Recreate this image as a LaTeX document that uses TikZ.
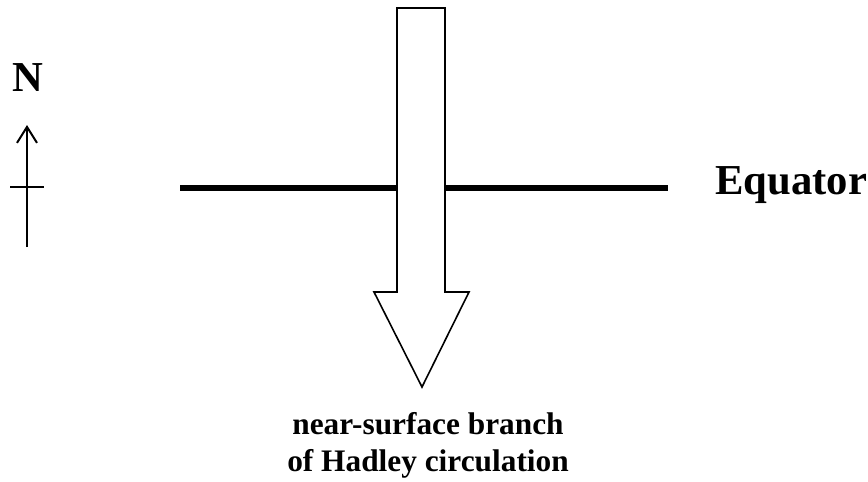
\documentclass[tikz,border=0pt]{standalone}
\usepackage{fontspec}
\setmainfont{Liberation Serif}
\usetikzlibrary{positioning, calc, arrows.meta}

\tikzset{
  bigtext/.style={font=\bfseries\fontsize{32}{38}\selectfont},
  smalltext/.style={font=\bfseries\fontsize{23.5}{28}\selectfont, align=center},
}

\begin{document}
\begin{tikzpicture}[x=0.75pt, y=-0.75pt, >=stealth]
    \useasboundingbox (0,0) rectangle (868,482);

    % North arrow
    \coordinate (sbot) at (27,247);
    \coordinate (stop) at (27,125);
    \draw[-{Straight Barb[length=12pt,width=15pt]}, line width=1.5pt] (sbot) -- (stop);
    \draw[line width=1.5pt] (10,187) -- (44,187);
    \node[bigtext, anchor=base, inner sep=0pt] (north) at (28,91) {N};

    % Equator
    \coordinate (eqw) at (180,188);
    \coordinate (eqe) at (668,188);
    \draw[line width=3.8pt] (eqw) -- (eqe);
    \node[bigtext, anchor=base west, inner sep=0pt] (equator) at (715,194) {Equator};

    % Hadley arrow
    \draw[line width=1.2pt, fill=white, line join=miter]
        (397,8) -- (445,8) -- (445,292) -- (469,292) -- (422,387)
        -- (374,292) -- (397,292) -- cycle;

    % Label
    \node[smalltext, anchor=base] (branch) at (428,434) {near-surface branch};
    \node[smalltext, anchor=base] (hadley) at (428,471) {of Hadley circulation};
\end{tikzpicture}
\end{document}
